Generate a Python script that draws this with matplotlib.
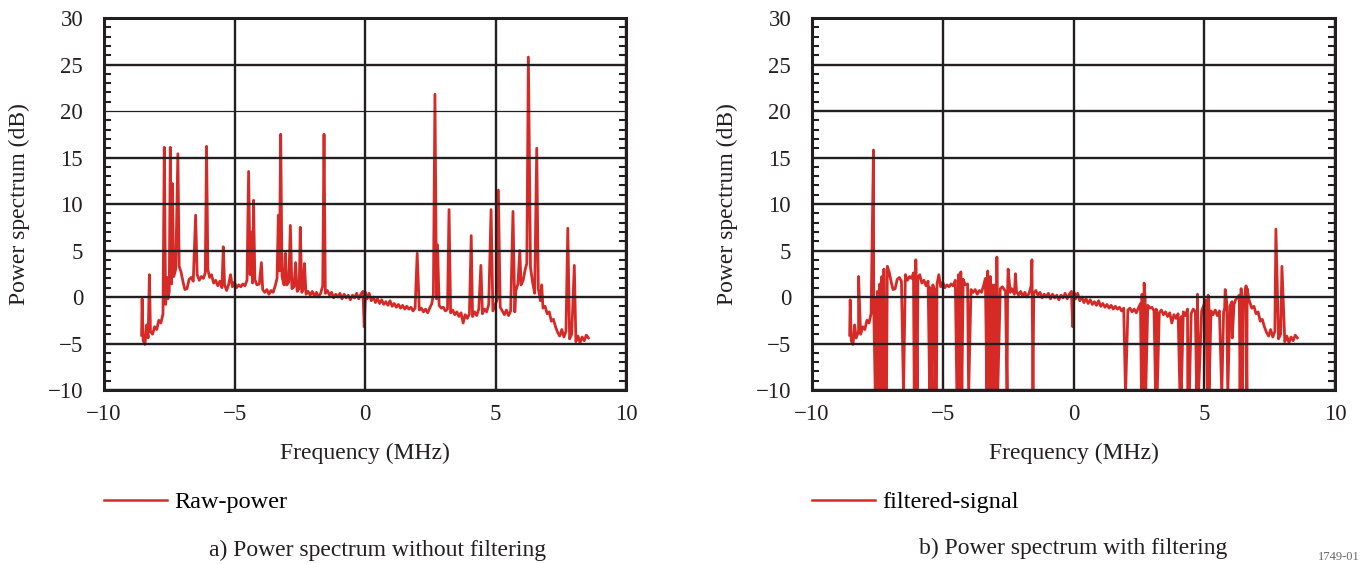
import numpy as np
import matplotlib
matplotlib.use('Agg')
import matplotlib.pyplot as plt
from matplotlib.ticker import MultipleLocator
from matplotlib.lines import Line2D

plt.rcParams['font.family'] = ['Liberation Serif', 'DejaVu Serif']
plt.rcParams['axes.unicode_minus'] = True

# ---------------- data ----------------
# noisy spectrum floor, frequency in MHz and power in dB
base_freq = [
    -8.56, -8.50, -8.43, -8.37, -8.31, -8.22, -8.14, -8.06, -7.98, -7.90,
    -7.82, -7.74, -7.64, -7.55, -7.50, -7.41, -7.33, -7.25, -7.12, -7.05,
    -6.97, -6.90, -6.82, -6.74, -6.66, -6.58, -6.43, -6.35, -6.27, -6.19,
    -6.12, -6.02, -5.95, -5.88, -5.80, -5.72, -5.64, -5.56, -5.48, -5.38,
    -5.30, -5.22, -5.15, -5.08, -5.00, -4.92, -4.84, -4.76, -4.68, -4.60,
    -4.52, -4.40, -4.31, -4.22, -4.14, -4.05, -3.92, -3.84, -3.76, -3.68,
    -3.60, -3.52, -3.44, -3.37, -3.28, -3.18, -3.10, -3.00, -2.92, -2.80,
    -2.72, -2.60, -2.52, -2.42, -2.36, -2.26, -2.18, -2.10, -2.02, -1.94,
    -1.86, -1.78, -1.70, -1.62, -1.52, -1.44, -1.36, -1.28, -1.20, -1.12,
    -1.04, -0.96, -0.88, -0.80, -0.72, -0.64, -0.56, -0.48, -0.40, -0.32,
    -0.24, -0.16, -0.08, -0.03, 0.02, 0.08, 0.16, 0.24, 0.32, 0.40,
    0.48, 0.56, 0.64, 0.72, 0.80, 0.88, 0.96, 1.04, 1.12, 1.20,
    1.28, 1.36, 1.44, 1.52, 1.60, 1.68, 1.76, 1.84, 1.92, 2.08,
    2.16, 2.24, 2.32, 2.40, 2.48, 2.56, 2.62, 2.74, 2.84, 2.92,
    3.00, 3.08, 3.16, 3.28, 3.36, 3.44, 3.52, 3.60, 3.68, 3.76,
    3.84, 3.92, 4.00, 4.12, 4.20, 4.28, 4.36, 4.50, 4.58, 4.66,
    4.74, 4.90, 4.98, 5.06, 5.18, 5.26, 5.34, 5.42, 5.50, 5.58,
    5.74, 5.78, 5.86, 5.98, 6.06, 6.14, 6.20, 6.34, 6.42, 6.50,
    6.64, 6.72, 6.82, 6.90, 6.98, 7.06, 7.14, 7.22, 7.30, 7.38,
    7.46, 7.54, 7.62, 7.70, 7.84, 7.92, 8.08, 8.16, 8.24, 8.32,
    8.40, 8.48, 8.56,
]
base_db = [
    -4.1, -4.7, -5.1, -3.0, -4.4, -3.7, -4.0, -3.2, -3.5, -2.5,
    -2.8, -1.8, -0.8, -0.2, 0.6, 1.4, 2.2, 3.0, 3.3, 2.7,
    1.6, 0.8, 0.9, 1.9, 2.1, 1.7, 2.4, 1.8, 2.2, 2.0,
    2.6, 2.9, 2.1, 2.4, 1.5, 1.8, 1.2, 1.7, 1.0, 1.3,
    0.7, 1.4, 2.4, 1.1, 1.6, 1.0, 1.3, 1.1, 1.4, 1.2,
    1.8, 2.4, 1.5, 1.9, 1.3, 1.4, 0.8, 0.5, 0.8, 0.3,
    0.7, 0.5, 1.2, 2.0, 2.8, 2.2, 1.3, 1.3, 1.6, 0.9,
    1.1, 0.6, 0.9, 0.5, 0.9, 0.3, 0.6, 0.2, 0.6, 0.1,
    0.5, 0.0, 0.4, 1.2, 0.4, 0.7, 0.2, 0.5, -0.1, 0.3,
    0.0, 0.4, -0.2, 0.3, -0.1, 0.2, -0.3, 0.2, -0.1, 0.4,
    -0.2, 0.3, 0.6, -3.2, 0.5, -0.2, 0.4, -0.4, 0.0, -0.6,
    -0.2, -0.7, -0.3, -0.8, -0.5, -0.9, -0.4, -1.0, -0.7, -1.1,
    -0.8, -1.2, -0.9, -1.3, -1.0, -1.3, -1.1, -1.5, -1.2, -1.4,
    -1.2, -1.6, -1.3, -1.7, -1.2, -0.7, 0.3, -0.2, -0.9, -1.2,
    -1.1, -1.5, -1.3, -1.7, -1.4, -1.9, -1.6, -2.1, -1.7, -2.8,
    -1.9, -2.3, -1.8, -2.1, -1.6, -2.0, -1.3, -1.8, -1.3, -1.6,
    -0.8, -1.5, -0.9, -0.3, -1.1, -1.5, -1.9, -1.4, -2.0, -1.5,
    -1.6, 0.7, 1.4, 1.3, 1.8, 3.0, 3.6, 3.2, 1.6, 0.4,
    0.9, -0.4, -1.2, -1.0, -1.8, -1.6, -2.6, -2.4, -3.2, -3.8,
    -4.2, -3.5, -4.3, -3.7, -4.5, -4.0, -4.8, -4.2, -4.9, -4.3,
    -4.7, -4.1, -4.4,
]

# narrow peaks of the raw spectrum (panel a)
raw_peak_freq = [-8.54, -8.26, -7.69, -7.57, -7.46, -7.38, -7.17, -6.49, -6.07,
                 -5.43, -4.46, -4.34, -4.27, -3.97, -3.32, -3.23, -3.05, -2.86,
                 -2.66, -2.48, -2.32, -1.57, 2.00, 2.68, 2.78, 3.22, 4.07, 4.44,
                 4.83, 5.11, 5.67, 5.93, 6.26, 6.58, 6.77, 7.77, 8.02]
raw_peak_db = [-0.2, 2.4, 16.1, 2.1, 16.1, 12.2, 15.4, 8.8, 16.2,
               5.4, 13.5, 7.0, 10.4, 3.7, 8.8, 17.5, 4.7, 7.7,
               3.7, 7.5, 3.6, 17.5, 4.7, 21.8, 5.6, 9.4, 6.6, 3.4,
               9.4, 11.5, 9.2, 5.0, 25.8, 16.0, 1.3, 7.4, 3.4]

# floor values changed by the filter (panel b)
filt_floor_freq = [5.78, 5.86, 5.98, 6.06, 6.14, 6.20, 6.34, 6.42, 6.50]
filt_floor_db = [-1.2, -0.6, -1.0, -0.5, -0.8, -0.3, 0.2, -0.4, -0.9]

# peaks and notches of the filtered spectrum (panel b)
filt_peak_freq = [-8.54, -8.22, -7.65, -6.03, -4.31, -2.93, -2.50, -2.22, -1.59,
                  2.70, 4.74, 5.15, 5.80, 6.41, 6.60, 7.74, 7.97]
filt_peak_db = [-0.3, 2.2, 15.8, 4.0, 2.7, 4.3, 3.0, 2.5, 4.0,
                1.5, 0.3, 0.2, 0.8, 0.9, 1.2, 7.3, 3.3]
filt_notch_freq = [-7.58, -7.52, -7.45, -7.37, -7.31, -7.27, -7.22, -7.15, -6.50,
                   -6.09, -5.98, -5.50, -5.41, -5.29, -5.24, -4.46, -4.39, -4.27,
                   -4.01, -3.31, -3.24, -3.17, -3.10, -3.03, -2.96, -2.90, -2.54,
                   -1.55, 1.99, 2.60, 2.68, 2.76, 3.14, 3.20, 4.07, 4.12, 4.37,
                   4.43, 4.71, 4.78, 5.12, 5.18, 5.67, 5.90, 6.07, 6.37, 6.46, 6.63]
filt_notch_db = [-10.5] * 44 + [-4.4, -10.5, -10.5, -10.5]

x_ticks = [-10, -5, 0, 5, 10]
y_ticks = [-10, -5, 0, 5, 10, 15, 20, 25, 30]

# ---------------- drawing ----------------
RED = '#d62a27'
DARK = '#231f20'
FS = 17
TFS = 16.5


def merge(bf, bd, sf, sd):
    f = np.concatenate([np.asarray(bf, float), np.asarray(sf, float)])
    d = np.concatenate([np.asarray(bd, float), np.asarray(sd, float)])
    o = np.argsort(f, kind='stable')
    return f[o], d[o]


raw_f, raw_d = merge(base_freq, base_db, raw_peak_freq, raw_peak_db)

filt_base_db = list(base_db)
for fq, v in zip(filt_floor_freq, filt_floor_db):
    filt_base_db[base_freq.index(fq)] = v
fb_f, fb_d = merge(base_freq, filt_base_db, filt_peak_freq, filt_peak_db)
filt_f, filt_d = merge(fb_f, fb_d, filt_notch_freq, filt_notch_db)

W, H = 1363, 564
fig = plt.figure(figsize=(W / 100, H / 100), dpi=100)
ax_a = fig.add_axes([104 / W, 1 - 390 / H, 522 / W, 372 / H])
ax_b = fig.add_axes([812 / W, 1 - 390 / H, 523 / W, 372 / H])


def style(ax):
    ax.set_xlim(-10, 10)
    ax.set_ylim(-10, 30)
    ax.set_xticks(x_ticks)
    ax.set_yticks(y_ticks)
    ax.yaxis.set_minor_locator(MultipleLocator(1))
    ax.tick_params(axis='both', which='major', length=0, labelsize=TFS,
                   labelcolor=DARK)
    ax.tick_params(axis='x', which='major', pad=10)
    ax.tick_params(axis='y', which='major', pad=15)
    ax.tick_params(axis='y', which='minor', direction='in', length=5,
                   width=1.5, color=DARK, left=True, right=True)
    ax.grid(True, which='major', color=DARK, lw=1.7)
    ax.set_axisbelow(False)
    for s in ax.spines.values():
        s.set_linewidth(2.2)
        s.set_color(DARK)
    ax.set_xlabel('Frequency (MHz)', fontsize=FS, color=DARK)
    ax.set_ylabel('Power spectrum (dB)', fontsize=FS, color=DARK)
    ax.xaxis.set_label_coords(0.5, -0.142)
    ax.yaxis.set_label_coords(-0.142, 0.5)


ax_a.plot(raw_f, raw_d, color=RED, lw=2.0, zorder=1, label='Raw-power')
ax_b.plot(filt_f, filt_d, color=RED, lw=2.0, zorder=1, label='filtered-signal')
style(ax_a)
style(ax_b)
ax_a.get_ygridlines()[6].set_linewidth(0.9)

for ax, lab in ((ax_a, 'Raw-power'), (ax_b, 'filtered-signal')):
    h = Line2D([], [], color=RED, lw=1.8)
    ax.legend([h], [lab], loc='center left', bbox_to_anchor=(0.0, -0.302),
              frameon=False, fontsize=17.5, handlelength=2.6,
              handletextpad=0.3, borderpad=0, borderaxespad=0)

fig.text(378 / W, 1 - 550 / H, 'a) Power spectrum without filtering',
         ha='center', va='center', fontsize=FS, color=DARK)
fig.text(1073 / W, 1 - 548 / H, 'b) Power spectrum with filtering',
         ha='center', va='center', fontsize=FS, color=DARK)
fig.text(1360 / W, 1 / H, '1749-01', ha='right', va='bottom',
         fontsize=9, color='#666666')

fig.savefig('out.png', dpi=100)
